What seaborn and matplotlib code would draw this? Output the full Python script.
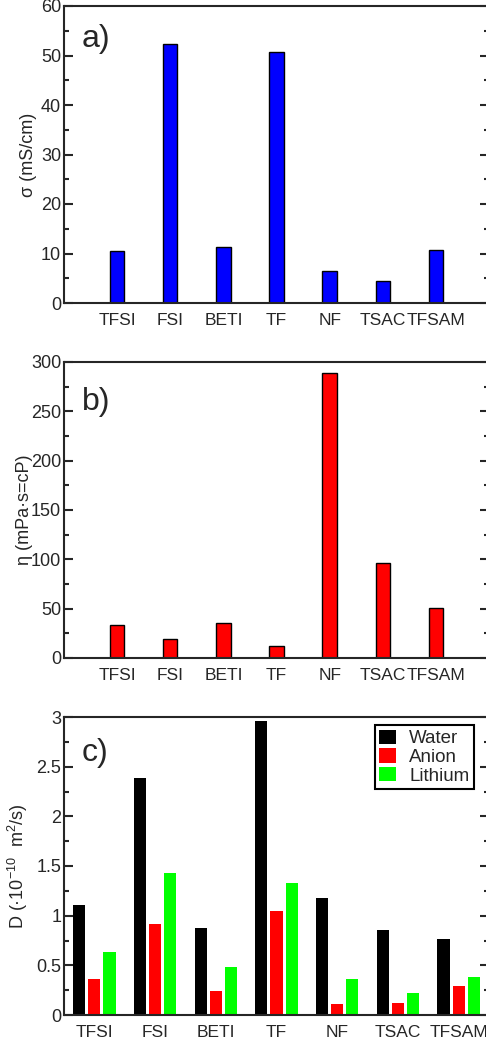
# Librerías necesarias
import pandas as pd
import numpy as np
import matplotlib.pyplot as plt
import seaborn as sns
from matplotlib.ticker import MultipleLocator, FormatStrFormatter

# Datos
aniones = ["TFSI", "FSI", "BETI", "TF", "NF", "TSAC", "TFSAM"]
conductividad = [10.6, 52.3, 11.3, 50.8, 6.5, 4.4, 10.8]
viscosidad = [33.7, 19.2, 35.4, 12.5, 288.5, 95.8, 50.3]
especies = ["Water", "Anion", "Lithium"]
d_agua = [1.11, 2.39, 0.88, 2.96, 1.18, 0.86, 0.77]
d_anion = [0.36, 0.92, 0.245, 1.045, 0.11, 0.12, 0.295]
d_litio = [0.635, 1.43, 0.485, 1.325, 0.365, 0.22, 0.385]

sns.set_style("ticks")
plt.rcParams['font.family'] = ['Liberation Sans', 'DejaVu Sans']
plt.rcParams['mathtext.fontset'] = 'custom'
plt.rcParams['mathtext.rm'] = 'Liberation Sans'

W, H = 486, 1045
fig = plt.figure(figsize=(W / 100, H / 100), dpi=100)

def crear_ejes(top, bottom):
  # posiciones en pixeles -> fracción de figura (el borde derecho queda fuera)
  return fig.add_axes([64 / W, 1 - bottom / H, 425 / W, (bottom - top) / H])

def estilo(ax, mayor, menor):
  for s in ax.spines.values():
    s.set_visible(True)
    s.set_linewidth(1.5)
  ax.yaxis.set_major_locator(MultipleLocator(mayor))
  ax.yaxis.set_minor_locator(MultipleLocator(menor))
  ax.yaxis.set_major_formatter(FormatStrFormatter('%g'))
  ax.tick_params(axis='y', which='both', direction='in', right=True, width=1.5, pad=2, labelsize=13)
  ax.tick_params(axis='y', which='major', length=6.5)
  ax.tick_params(axis='y', which='minor', length=3.6)
  ax.tick_params(axis='x', length=0, pad=7, labelsize=12.5)
  ax.set_xlabel("")

# a) conductividad
ax1 = crear_ejes(6, 303)
sns.barplot(x=aniones, y=conductividad, color="#0000ff", saturation=1, width=0.27,
            edgecolor="black", linewidth=1, ax=ax1)
ax1.set_xlim(-1, 7)
ax1.set_ylim(0, 60)
estilo(ax1, 10, 5)
ax1.set_ylabel("σ (mS/cm)", fontsize=13)
ax1.yaxis.set_label_coords(-0.064, 0.5)
ax1.text(0.042, 0.863, "a)", transform=ax1.transAxes, fontsize=23, va='baseline')

# b) viscosidad
ax2 = crear_ejes(362, 658)
sns.barplot(x=aniones, y=viscosidad, color="#ff0000", saturation=1, width=0.27,
            edgecolor="black", linewidth=1, ax=ax2)
ax2.set_xlim(-1, 7)
ax2.set_ylim(0, 300)
estilo(ax2, 50, 25)
ax2.set_ylabel("η (mPa·s=cP)", fontsize=13)
ax2.yaxis.set_label_coords(-0.073, 0.5)
ax2.text(0.042, 0.838, "b)", transform=ax2.transAxes, fontsize=23, va='baseline')

# c) coeficientes de difusión
df = pd.DataFrame({
  "anion": aniones * 3,
  "especie": [e for e in especies for _ in aniones],
  "D": d_agua + d_anion + d_litio,
})
ax3 = crear_ejes(717, 1015)
sns.barplot(data=df, x="anion", y="D", hue="especie", hue_order=especies,
            palette=["black", "#ff0000", "#00ff00"], saturation=1, width=0.75, gap=0.2,
            linewidth=0, ax=ax3)
ax3.set_xlim(-0.5, 6.5)
ax3.set_ylim(0, 3)
estilo(ax3, 0.5, 0.25)
ax3.set_ylabel(r"D (·10$^{-10}$  m$^2$/s)", fontsize=13)
ax3.yaxis.set_label_coords(-0.08, 0.5)
ax3.text(0.042, 0.853, "c)", transform=ax3.transAxes, fontsize=23, va='baseline')
leg = ax3.legend(loc='upper right', bbox_to_anchor=(0.965, 0.973), borderaxespad=0,
                 fontsize=13.5, frameon=True, fancybox=False, edgecolor="black",
                 handlelength=0.9, handleheight=0.8, handletextpad=0.7,
                 labelspacing=0.05, borderpad=0.25, title=None)
leg.get_frame().set_linewidth(1.5)
leg.get_frame().set_alpha(1)

fig.savefig("out.png", dpi=100)
